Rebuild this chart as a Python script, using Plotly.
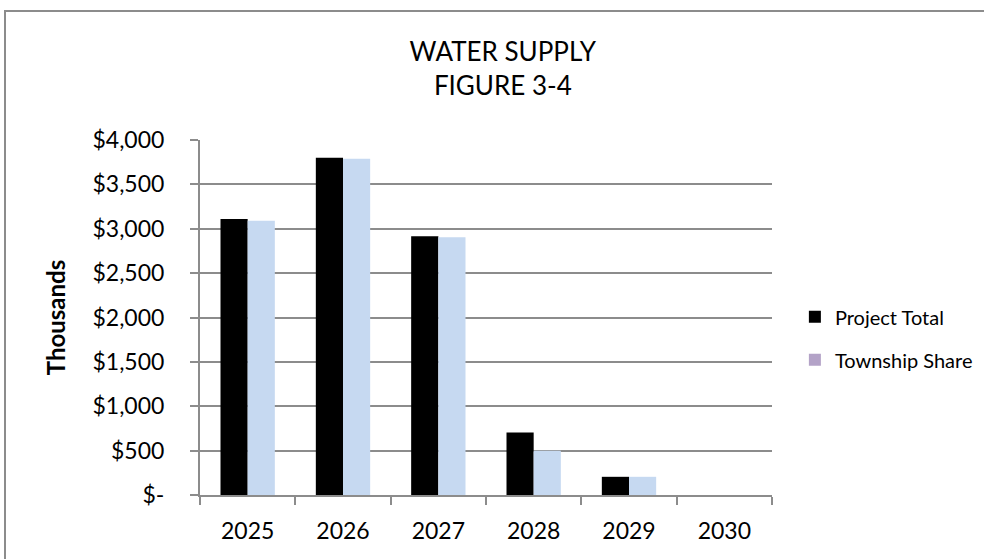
import plotly.graph_objects as go

years = ["2025", "2026", "2027", "2028", "2029", "2030"]
project_total = [3110, 3800, 2915, 705, 205, 0]
township_share = [3090, 3790, 2905, 500, 205, 0]
y_tickvals = [0, 500, 1000, 1500, 2000, 2500, 3000, 3500, 4000]
y_ticktext = ["$-", "$500", "$1,000", "$1,500", "$2,000", "$2,500", "$3,000", "$3,500", "$4,000"]

FONT = "Lato, Open Sans, sans-serif"

fig = go.Figure()
fig.add_trace(go.Bar(x=years, y=project_total, name="Project Total",
                     marker=dict(color="#000000", line=dict(width=0)), showlegend=False))
fig.add_trace(go.Bar(x=years, y=township_share, name="Township Share",
                     marker=dict(color="#C6D9F1", line=dict(width=0)), showlegend=False))
# legend entries (Excel shows a lavender swatch for Township Share)
fig.add_trace(go.Scatter(x=[None], y=[None], mode="markers", name="Project Total",
                         marker=dict(symbol="square", color="#000000", size=12),
                         legendgroup="a"))
fig.add_trace(go.Scatter(x=[None], y=[None], mode="markers", name="Township Share",
                         marker=dict(symbol="square", color="#B3A2C7", size=12),
                         legendgroup="b"))

fig.update_layout(
    width=984, height=559,
    margin=dict(l=200, r=212, t=140, b=64, autoexpand=False),
    paper_bgcolor="white", plot_bgcolor="white",
    font=dict(family=FONT, size=23, color="#000000"),
    barmode="group", bargap=0.43, bargroupgap=0,
    title=dict(text="WATER SUPPLY<br>FIGURE 3-4", x=0.511, xanchor="center",
               y=0.89, yanchor="middle", font=dict(family=FONT, size=26)),
    legend=dict(x=1.040, y=0.557, xanchor="left", yanchor="top",
                font=dict(family=FONT, size=20), tracegroupgap=14,
                bgcolor="rgba(0,0,0,0)", itemwidth=30),
    xaxis=dict(type="category", showline=True, linecolor="#8c8c8c", linewidth=2,
               ticks="outside", tickson="boundaries", ticklen=8, tickcolor="#8c8c8c",
               tickwidth=2, showgrid=False, tickfont=dict(size=23), ticklabelstandoff=14),
    yaxis=dict(range=[0, 4000], tickvals=y_tickvals, ticktext=y_ticktext,
               showline=True, linecolor="#8c8c8c", linewidth=2,
               ticks="outside", ticklen=8, tickcolor="#8c8c8c", tickwidth=2,
               showgrid=True, gridcolor="#8c8c8c", gridwidth=1.5, zeroline=False,
               tickfont=dict(size=23), ticklabelstandoff=21,
               title=dict(text="<b>Thousands</b>", font=dict(size=24), standoff=20)),
    shapes=[dict(type="rect", xref="paper", yref="paper",
                 x0=(5 - 200) / 572, x1=(995 - 200) / 572,
                 y0=(495 - 570) / 355, y1=(495 - 11) / 355,
                 line=dict(color="#8c8c8c", width=2), fillcolor="rgba(0,0,0,0)",
                 layer="below")],
)

fig.write_html("out.html", config={"displayModeBar": False},
               post_script="document.body.style.margin='0';")
